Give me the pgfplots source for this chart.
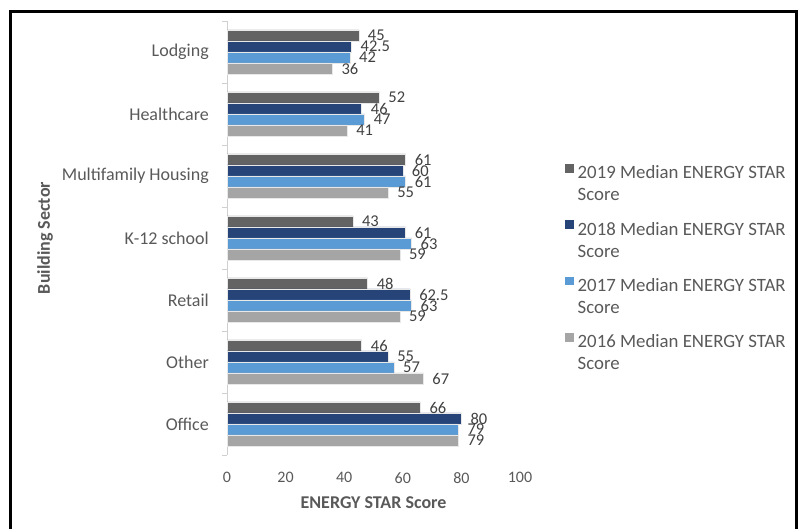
\documentclass[border=0pt]{standalone}
\usepackage{fontspec}
\setmainfont{Carlito}
\usepackage{pgfplots}
\pgfplotsset{compat=1.18}
\usepackage{pgfplotstable}
\definecolor{c19}{HTML}{636363}
\definecolor{c18}{HTML}{264478}
\definecolor{c17}{HTML}{5B9BD5}
\definecolor{c16}{HTML}{A5A5A5}
\definecolor{txt}{HTML}{595959}
\definecolor{lbl}{HTML}{404040}
\definecolor{axl}{HTML}{D0D0D0}

\pgfplotstableread{
y  v19 v18 v17 v16
0 66 80 79 79
1 46 55 57 67
2 48 62.5 63 59
3 43 61 63 59
4 61 60 61 55
5 52 46 47 41
6 45 42.5 42 36
}\datatable

\newcommand\legtext[1]{\parbox[t]{220pt}{\fontsize{18.8}{22}\selectfont\raggedright #1 Median ENERGY STAR\\Score}}

\begin{document}
\begin{tikzpicture}
\useasboundingbox (0,0) rectangle (799pt,529pt);
\begin{axis}[
  at={(227pt,74pt)}, anchor=south west,
  scale only axis, width=293pt, height=434pt,
  xmin=0, xmax=100, ymin=-0.5, ymax=6.5,
  xbar, bar width=11pt,
  clip=false,
  axis lines*=left,
  axis line style={-},
  x axis line style={draw=none},
  y axis line style={draw=axl, line width=0.8pt},
  xtick={0,20,...,100},
  ytick={0,...,6},
  yticklabels={Office,Other,Retail,K-12 school,Multifamily Housing,Healthcare,Lodging},
  minor ytick={-0.5,0.5,...,6.5},
  major tick length=0pt,
  minor tick length=5pt,
  tick align=outside,
  minor y tick style={draw=axl, line width=0.8pt},
  /pgf/number format/assume math mode=true,
  xticklabel style={font=\fontsize{16}{19}\selectfont, text=txt, anchor=north, inner sep=0pt, yshift=-17pt},
  yticklabel style={font=\fontsize{18}{21}\selectfont, text=txt, anchor=east, inner sep=0pt, xshift=-18pt},
  xlabel={ENERGY STAR Score},
  ylabel={Building Sector},
  xlabel style={font=\fontsize{18}{21}\selectfont\bfseries, text=txt, at={(axis description cs:0.5,-0.1106)}, anchor=center},
  ylabel style={font=\fontsize{18}{21}\selectfont\bfseries, text=txt, at={(axis description cs:-0.621,0.5)}, anchor=center},
  point meta=x,
  nodes near coords,
  nodes near coords style={font=\fontsize{16.5}{19}\selectfont, text=lbl, anchor=west, xshift=5.5pt},
  every axis plot/.append style={draw=white!82!gray, line width=0.6pt},
  legend image code/.code={\fill[#1, draw=none] (0pt,0.5pt) rectangle (8.5pt,9pt);},
  legend cell align=left,
  legend style={at={(axis description cs:1.1536,0.6705)}, anchor=north west, draw=none, fill=none,
    inner sep=0pt, row sep=40pt, column sep=4pt, nodes={inner sep=0pt, text=txt}},
]
\addplot[fill=c19, bar shift=16.5pt] table[x=v19, y=y] {\datatable};
\addlegendentry{\legtext{2019}}
\addplot[fill=c18, bar shift=5.5pt] table[x=v18, y=y] {\datatable};
\addlegendentry{\legtext{2018}}
\addplot[fill=c17, bar shift=-5.5pt] table[x=v17, y=y] {\datatable};
\addlegendentry{\legtext{2017}}
\addplot[fill=c16, bar shift=-16.5pt] table[x=v16, y=y] {\datatable};
\addlegendentry{\legtext{2016}}
\end{axis}
\draw[line width=3pt] (10.5pt,0pt) -- (10.5pt,517pt) -- (796pt,517pt) -- (796pt,0pt);
\end{tikzpicture}
\end{document}
